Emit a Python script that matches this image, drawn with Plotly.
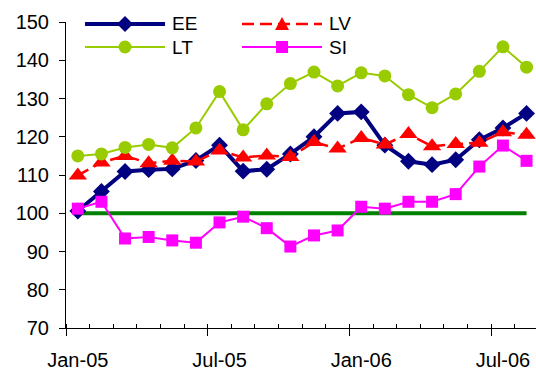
import plotly.graph_objects as go

# Monthly index values, Jan-05 .. Aug-06
months = ["Jan-05", "Feb-05", "Mar-05", "Apr-05", "May-05", "Jun-05",
          "Jul-05", "Aug-05", "Sep-05", "Oct-05", "Nov-05", "Dec-05",
          "Jan-06", "Feb-06", "Mar-06", "Apr-06", "May-06", "Jun-06",
          "Jul-06", "Aug-06"]

ee = [100.6, 105.7, 110.9, 111.4, 111.6, 113.8, 117.8, 111.0, 111.5, 115.5,
      120.0, 126.1, 126.5, 117.8, 113.6, 112.7, 114.0, 119.2, 122.3, 126.1]
lv = [109.9, 113.3, 115.0, 113.1, 113.7, 113.5, 116.4, 114.6, 115.1, 114.7,
      118.6, 116.9, 119.7, 118.0, 120.7, 117.5, 118.1, 118.4, 121.2, 120.5]
lt = [115.0, 115.5, 117.2, 118.0, 117.1, 122.3, 131.8, 121.8, 128.6, 133.9,
      136.9, 133.3, 136.7, 135.9, 131.0, 127.6, 131.2, 137.1, 143.5, 138.2]
si = [101.2, 103.0, 93.4, 93.8, 92.9, 92.3, 97.6, 99.1, 96.1, 91.3,
      94.2, 95.5, 101.7, 101.2, 103.0, 103.0, 105.0, 112.2, 117.7, 113.7]
base = [100, 100, 100, 100, 100, 100, 100, 100, 100, 100,
        100, 100, 100, 100, 100, 100, 100, 100, 100, 100]

tick_labels = ["Jan-05", "Jul-05", "Jan-06", "Jul-06"]
y_ticks = [70, 80, 90, 100, 110, 120, 130, 140, 150]

x = list(range(len(months)))
FONT = "Liberation Sans, Arial, sans-serif"

fig = go.Figure()

# reference level
fig.add_trace(go.Scatter(x=x, y=base, mode="lines", name="100",
                         line=dict(color="#008000", width=4),
                         showlegend=False, hoverinfo="skip"))

series = [
    dict(name="EE", y=ee, color="#000080", width=4, dash="solid",
         symbol="diamond", size=13),
    dict(name="LV", y=lv, color="#FF0000", width=2.5, dash="12px,6px",
         symbol="triangle-up", size=16),
    dict(name="LT", y=lt, color="#99CC00", width=2, dash="solid",
         symbol="circle", size=13),
    dict(name="SI", y=si, color="#FF00FF", width=2, dash="solid",
         symbol="square", size=12),
]

for s in series:
    fig.add_trace(go.Scatter(
        x=x, y=s["y"], mode="lines+markers", name=s["name"],
        text=months, hovertemplate="%{text}: %{y}<extra>" + s["name"] + "</extra>",
        line=dict(color=s["color"], width=s["width"], dash=s["dash"]),
        marker=dict(symbol=s["symbol"], size=s["size"], color=s["color"],
                    line=dict(width=0)),
        showlegend=False))

# empty trace so the label axis gets drawn
fig.add_trace(go.Scatter(x=[0], y=[None], xaxis="x2", yaxis="y",
                         mode="markers", showlegend=False, hoverinfo="skip"))

# plot area in pixels
PL, PT, PW, PH = 66, 22, 470, 306


def px(xp):
    return (xp - PL) / PW


def py(yp):
    return (PT + PH - yp) / PH


# hand-drawn legend: two columns, two rows
legend_slots = {"EE": (85, 24), "LV": (242, 24), "LT": (85, 47), "SI": (242, 47)}
marker_paths = {
    "diamond": "M-8,0L0,8L8,0L0,-8Z",
    "triangle-up": "M-7,-6L7,-6L0,7Z",
    "square": "M-6,-6L6,-6L6,6L-6,6Z",
}
shapes = []
annotations = []
for s in series:
    x0, yy = legend_slots[s["name"]]
    x1 = x0 + 80
    xm = x0 + 40
    shapes.append(dict(type="line", xref="paper", yref="paper",
                       x0=px(x0), x1=px(x1), y0=py(yy), y1=py(yy),
                       line=dict(color=s["color"], width=s["width"],
                                 dash=s["dash"])))
    if s["symbol"] == "circle":
        shapes.append(dict(type="circle", xref="paper", yref="paper",
                           xsizemode="pixel", ysizemode="pixel",
                           xanchor=px(xm), yanchor=py(yy),
                           x0=-6.5, x1=6.5, y0=-6.5, y1=6.5,
                           fillcolor=s["color"], line=dict(width=0)))
    else:
        shapes.append(dict(type="path", xref="paper", yref="paper",
                           xsizemode="pixel", ysizemode="pixel",
                           xanchor=px(xm), yanchor=py(yy),
                           path=marker_paths[s["symbol"]],
                           fillcolor=s["color"], line=dict(width=0)))
    annotations.append(dict(text=s["name"], xref="paper", yref="paper",
                            x=px(x1 + 5), y=py(yy), xanchor="left",
                            yanchor="middle", showarrow=False,
                            font=dict(family=FONT, size=19, color="black")))

label_pos = [months.index(t) for t in tick_labels]
boundaries = [i - 0.5 for i in range(len(months) + 1)]
major_bounds = [p - 0.5 for p in label_pos]

fig.update_layout(
    width=536, height=373,
    margin=dict(l=PL, r=0, t=PT, b=373 - PT - PH),
    paper_bgcolor="white", plot_bgcolor="white",
    font=dict(family=FONT, size=20, color="black"),
    shapes=shapes, annotations=annotations,
    xaxis=dict(range=[-0.5, 19.4], showgrid=False, zeroline=False,
               showline=True, linecolor="black", linewidth=1,
               tickmode="array", tickvals=major_bounds,
               ticks="outside", ticklen=7, tickcolor="black",
               showticklabels=False,
               minor=dict(tickmode="array", tickvals=boundaries,
                          ticks="inside", ticklen=4, tickcolor="black",
                          showgrid=False)),
    xaxis2=dict(range=[-0.5, 19.4], overlaying="x", anchor="y", side="bottom",
                showgrid=False, zeroline=False, showline=False,
                tickmode="array", tickvals=label_pos, ticktext=tick_labels,
                ticks="", ticklabelstandoff=18,
                tickfont=dict(family=FONT, size=20, color="black")),
    yaxis=dict(range=[70, 150], showgrid=False, zeroline=False,
               showline=True, linecolor="black", linewidth=1,
               tickmode="array", tickvals=y_ticks,
               ticks="outside", ticklen=6, tickcolor="black",
               ticklabelstandoff=6,
               tickfont=dict(family=FONT, size=20, color="black")),
)

fig.write_html("out.html")
